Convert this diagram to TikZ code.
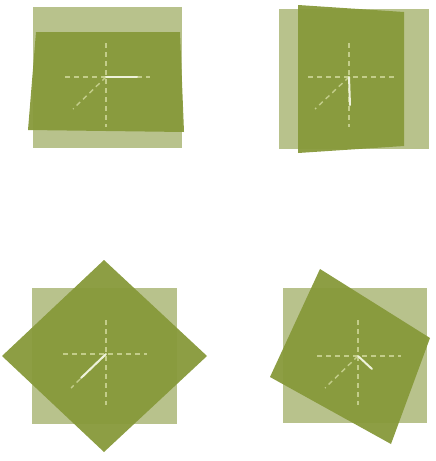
\documentclass[tikz,border=0pt]{standalone}
\begin{document}
\begin{tikzpicture}[x=1pt,y=-1pt,
  lightsq/.style={fill=lightolive,draw=none},
  darksq/.style={fill=darkolive,draw=none,fill opacity=0.95},
  guide/.style={draw=guidegreen,line width=1.4pt,dash pattern=on 5pt off 4pt},
  hand/.style={draw=handwhite,line width=2pt,line cap=round}]
\definecolor{lightolive}{HTML}{B8C28C}
\definecolor{darkolive}{HTML}{87993A}
\definecolor{guidegreen}{HTML}{C3CD8A}
\definecolor{handwhite}{HTML}{EEF2DA}
\useasboundingbox[fill=white] (0,0) rectangle (436,461);
% Panel 1
\fill[lightsq] (33,7) rectangle (182,148);
\fill[darksq] (36,32) -- (180,32) -- (184,132) -- (28,130) -- cycle;
\coordinate (c1) at (106,77);
\draw[guide] (65,77) -- (150,77);
\draw[guide] (106,43) -- (106,127);
\draw[guide] (c1) -- (73,109);
\draw[hand] (c1) -- (137,77);
% Panel 2
\fill[lightsq] (279,9) rectangle (429,149);
\fill[darksq] (298,5) -- (404,12) -- (404,146) -- (298,153) -- cycle;
\coordinate (c2) at (349,77);
\draw[guide] (308,77) -- (394,77);
\draw[guide] (349,43) -- (349,127);
\draw[guide] (c2) -- (315,109);
\draw[hand] (c2) -- (350,105);
% Panel 3
\fill[lightsq] (32,288) rectangle (177,424);
\fill[darksq] (104,260) -- (207,356) -- (104,452) -- (2,356) -- cycle;
\coordinate (c3) at (106,354);
\draw[guide] (63,354) -- (147,354);
\draw[guide] (106,320) -- (106,405);
\draw[guide] (c3) -- (71,388);
\draw[hand] (c3) -- (81,378);
% Panel 4
\fill[lightsq] (283,288) rectangle (427,423);
\fill[darksq] (320,269) -- (430,338) -- (391,444) -- (270,377) -- cycle;
\coordinate (c4) at (358,356);
\draw[guide] (317,356) -- (401,356);
\draw[guide] (358,320) -- (358,405);
\draw[guide] (c4) -- (325,388);
\draw[hand] (c4) -- (372,369);
\end{tikzpicture}
\end{document}
